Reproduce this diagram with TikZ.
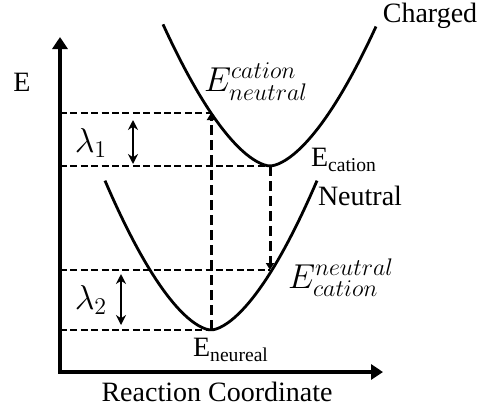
\documentclass[tikz,border=0pt]{standalone}
\usepackage{amsmath}
\usepackage{fontspec}
\setmainfont{Liberation Serif}
\usetikzlibrary{arrows.meta}

\tikzset{
  axis/.style={line width=2.2pt, {Triangle[length=6pt,width=7.5pt]}-{Triangle[length=6pt,width=7.5pt]}},
  curve/.style={line width=1.4pt},
  guide/.style={line width=0.9pt, dash pattern=on 3.5pt off 1.7pt},
  drop/.style={line width=1.5pt, dash pattern=on 5pt off 2.5pt, -{Triangle[length=3.5pt,width=4pt]}},
  gap/.style={line width=1.2pt, {Stealth[length=5pt,width=5pt]}-{Stealth[length=5pt,width=5pt]}},
  big/.style={font=\fontsize{17}{19}\selectfont}
}

\begin{document}
\begin{tikzpicture}[x=0.5pt, y=-0.5pt, font=\fontsize{14}{16}\selectfont]
  \useasboundingbox (0,0) rectangle (486,407);
  \coordinate (origin) at (60,372);
  \coordinate (ytip) at (60,37);
  \coordinate (xtip) at (383,372);
  \coordinate (nmin) at (211,330);
  \coordinate (cmin) at (270,166);
  \coordinate (cup) at (211,113);
  \coordinate (ndown) at (270,270);
  \draw[axis] (ytip) -- (origin) -- (xtip);
  \draw[curve] plot[domain=-106:106, samples=60] ({211+\x},{330-0.068*abs(\x)^1.65});
  \draw[curve] plot[domain=-107:106, samples=60] ({270+\x},{166-0.0635*abs(\x)^1.65});
  \foreach \p in {cup, cmin, ndown, nmin} \draw[guide] (origin |- \p) -- (\p);
  \draw[drop] (nmin) -- (cup);
  \draw[drop] (cmin) -- (ndown);
  \draw[gap] (133,120) -- (133,164);
  \draw[gap] (121,274) -- (121,325);
  \node (elabel) at (22,82) {E};
  \node[big] (lam1) at (91,143) {$\lambda_1$};
  \node[big] (lam2) at (91,300) {$\lambda_2$};
  \node (charged) at (430,16) {Charged};
  \node (neutral) at (360,196) {Neutral};
  \node (ecat) at (344,160) {E$_{\text{cation}}$};
  \node (eneu) at (231,350) {E$_{\text{neureal}}$};
  \node[big] (ecn) at (256,82) {$E^{cation}_{neutral}$};
  \node[big] (enc) at (341,278) {$E^{neutral}_{cation}$};
  \node (xlabel) at (217,392) {Reaction Coordinate};
\end{tikzpicture}
\end{document}
